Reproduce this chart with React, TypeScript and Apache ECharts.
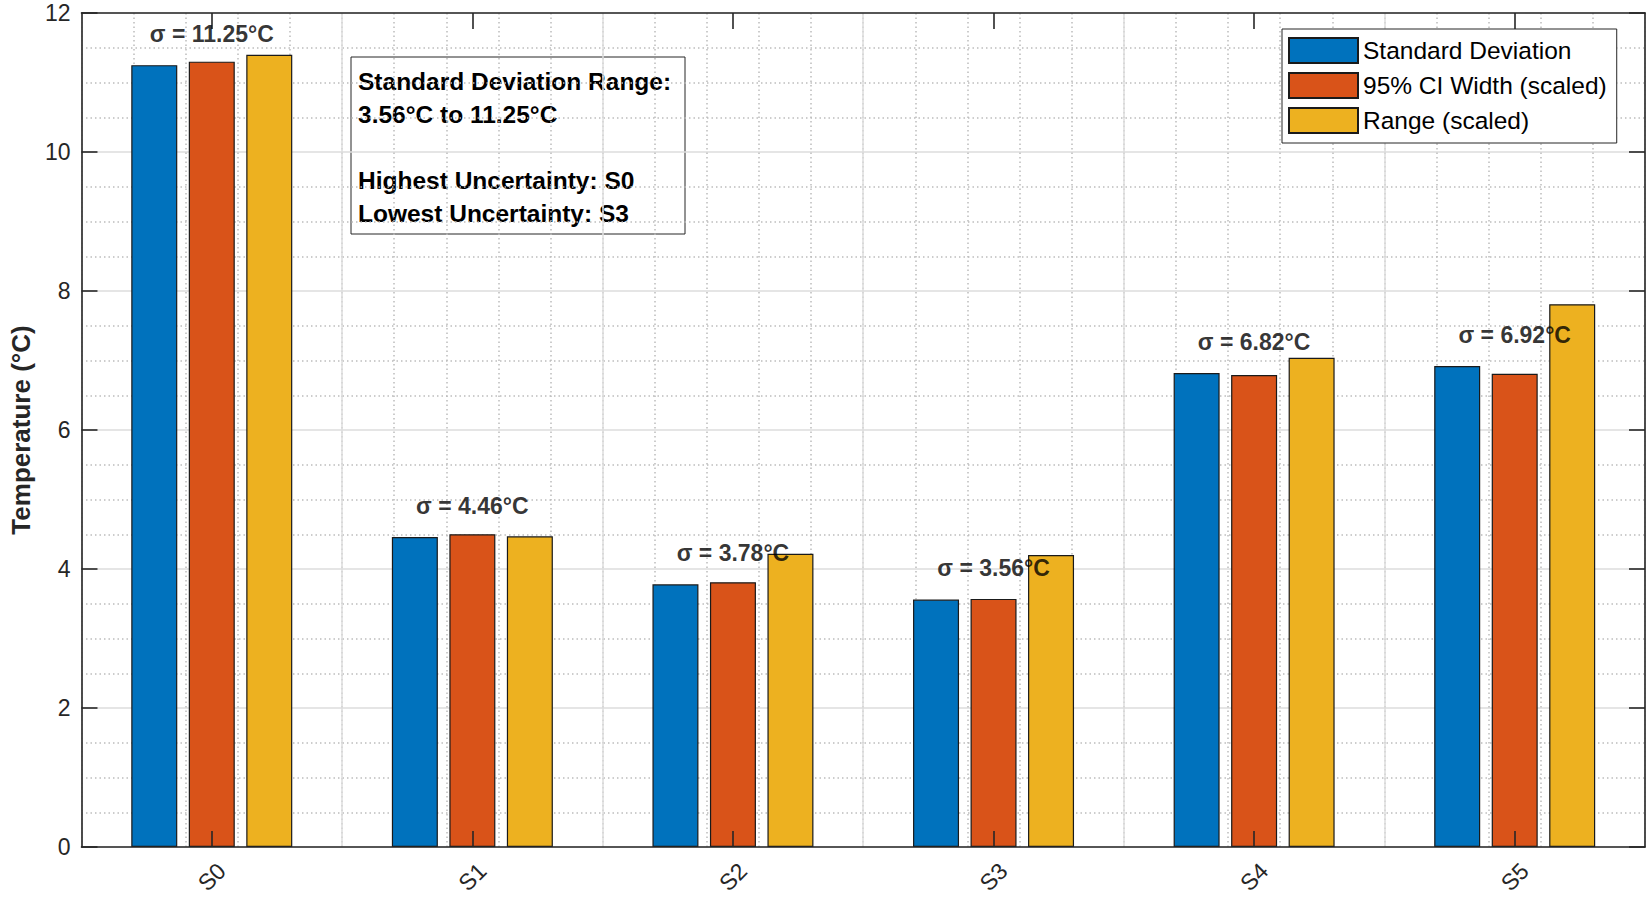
import React, { useEffect, useRef } from "react";
import * as echarts from "echarts";

const categories = ["S0", "S1", "S2", "S3", "S4", "S5"];
const seriesNames = ["Standard Deviation", "95% CI Width (scaled)", "Range (scaled)"];
const stdDev = [11.25, 4.46, 3.78, 3.56, 6.82, 6.92];
const ciWidth = [11.3, 4.5, 3.81, 3.57, 6.79, 6.81];
const rangeScaled = [11.4, 4.47, 4.22, 4.2, 7.04, 7.81];
const colors = ["#0072BD", "#D95319", "#EDB120"];
const yMin = 0;
const yMax = 12;
const yInterval = 2;

const FONT = "'Liberation Sans', Arial, Helvetica, sans-serif";
const AX = "#262626";

export default function App() {
  const ref = useRef<HTMLDivElement>(null);

  useEffect(() => {
    if (!ref.current) return;
    const chart = echarts.init(ref.current, null, { renderer: "svg" });

    const minV = Math.min(...stdDev);
    const maxV = Math.max(...stdDev);
    const hi = categories[stdDev.indexOf(maxV)];
    const lo = categories[stdDev.indexOf(minV)];
    const boxText =
      "Standard Deviation Range:\n" +
      `${minV.toFixed(2)}°C to ${maxV.toFixed(2)}°C\n\n` +
      `Highest Uncertainty: ${hi}\n` +
      `Lowest Uncertainty: ${lo}`;

    const barSeries = [stdDev, ciWidth, rangeScaled].map((d, i) => ({
      type: "bar",
      name: seriesNames[i],
      data: d,
      xAxisIndex: 0,
      yAxisIndex: 0,
      barWidth: 46,
      barGap: "25%",
      itemStyle: { color: colors[i], borderColor: "#1a1a1a", borderWidth: 1.2 },
      emphasis: { disabled: true },
    }));

    const boxLine = { show: true, onZero: false, lineStyle: { color: AX, width: 1.6 } };
    const boxTick = { show: true, inside: true, length: 16, lineStyle: { color: AX, width: 1.6 } };
    const hidden = {
      axisLine: { show: false },
      axisTick: { show: false },
      axisLabel: { show: false },
    };

    const option: any = {
      animation: false,
      textStyle: { fontFamily: FONT },
      grid: { left: 80, right: 7, top: 13, bottom: 54, containLabel: false },
      legend: {
        orient: "vertical",
        left: 1282,
        top: 29,
        padding: [8, 10, 9, 6],
        itemWidth: 69,
        itemHeight: 25,
        itemGap: 8,
        backgroundColor: "#fff",
        borderColor: AX,
        borderWidth: 1,
        borderRadius: 0,
        icon: "rect",
        textStyle: { fontFamily: FONT, fontSize: 24.5, color: "#000" },
        data: seriesNames,
        z: 50,
      },
      xAxis: [
        {
          type: "category",
          data: categories,
          position: "bottom",
          z: 5,
          axisLine: boxLine,
          axisTick: { ...boxTick, alignWithLabel: true },
          axisLabel: {
            rotate: 45,
            align: "center",
            verticalAlign: "middle",
            margin: 30,
            fontSize: 23,
            fontFamily: FONT,
            color: AX,
          },
          splitLine: { show: false },
        },
        {
          type: "category",
          data: categories,
          position: "top",
          z: 5,
          axisLine: boxLine,
          axisTick: { ...boxTick, alignWithLabel: true },
          axisLabel: { show: false },
          splitLine: { show: false },
        },
        {
          type: "value",
          min: -0.5,
          max: 5.5,
          interval: 0.2,
          z: 0,
          ...hidden,
          splitLine: { show: true, lineStyle: { color: "#bcbcbc", width: 1.5, type: [1.5, 3] } },
        },
        {
          type: "value",
          min: -0.5,
          max: 5.5,
          interval: 1,
          z: 0,
          ...hidden,
          splitLine: { show: true, lineStyle: { color: "#dcdcdc", width: 1.5 } },
        },
      ],
      yAxis: [
        {
          type: "value",
          min: yMin,
          max: yMax,
          interval: yInterval,
          position: "left",
          z: 5,
          name: "Temperature (°C)",
          nameLocation: "middle",
          nameGap: 47,
          nameTextStyle: { fontFamily: FONT, fontSize: 26, fontWeight: "bold", color: AX },
          axisLine: boxLine,
          axisTick: boxTick,
          axisLabel: { margin: 11, fontSize: 23, fontFamily: FONT, color: AX },
          splitLine: { show: false },
        },
        {
          type: "value",
          min: yMin,
          max: yMax,
          interval: yInterval,
          position: "right",
          z: 5,
          axisLine: boxLine,
          axisTick: boxTick,
          axisLabel: { show: false },
          splitLine: { show: false },
        },
        {
          type: "value",
          min: yMin,
          max: yMax,
          interval: yInterval,
          position: "left",
          z: 0,
          ...hidden,
          splitLine: { show: true, lineStyle: { color: "#dcdcdc", width: 1.5 } },
          minorTick: { show: false, splitNumber: 4 },
          minorSplitLine: { show: true, lineStyle: { color: "#bcbcbc", width: 1.5, type: [1.5, 3] } },
        },
      ],
      series: [
        ...barSeries,
        {
          type: "scatter",
          name: "sigmaLabels",
          data: stdDev,
          xAxisIndex: 0,
          yAxisIndex: 0,
          symbolSize: 0,
          z: 10,
          silent: true,
          label: {
            show: true,
            position: "top",
            distance: 20,
            formatter: (p: any) => `σ = ${Number(p.value).toFixed(2)}°C`,
            fontFamily: FONT,
            fontSize: 23,
            fontWeight: "bold",
            color: "#000",
          },
        },
      ],
      graphic: [
        {
          type: "group",
          z: 100,
          children: [
            {
              type: "rect",
              shape: { x: 351, y: 57, width: 334, height: 177 },
              style: { fill: "#fff", stroke: AX, lineWidth: 1 },
            },
            {
              type: "text",
              x: 358,
              y: 65,
              style: {
                text: boxText,
                font: `bold 24.5px ${FONT}`,
                lineHeight: 33,
                fill: "#000",
                verticalAlign: "top",
              },
            },
          ],
        },
      ],
    };

    chart.setOption(option);
    return () => chart.dispose();
  }, []);

  return (
    <div
      ref={ref}
      style={{ position: "fixed", left: 0, top: 0, width: 1652, height: 901, background: "#fff" }}
    />
  );
}
